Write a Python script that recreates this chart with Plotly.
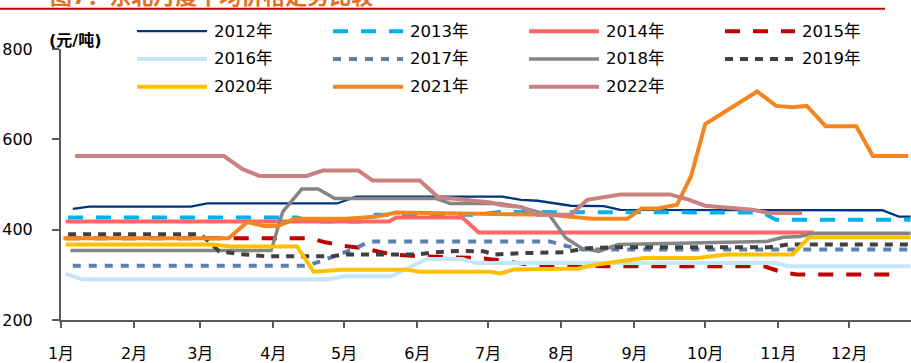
import plotly.graph_objects as go

# ---- x axis: day of year (0 = 1 Jan), ticks at the first day of each month ----
MONTH_START = [0, 31, 59, 90, 120, 151, 181, 212, 243, 273, 304, 334]
MONTH_LABELS = ["1月", "2月", "3月", "4月", "5月", "6月",
                "7月", "8月", "9月", "10月", "11月", "12月"]
Y_TICKS = [200, 400, 600, 800]

# ---- price series (元/吨): day of year and value at each vertex ----
d2012 = [5, 12, 55, 62, 117, 125, 187, 195, 202, 209, 216, 230, 237, 348, 355, 360]
v2012 = [446, 451, 451, 458, 458, 473, 473, 466, 464, 458, 453, 452, 444, 443, 429, 429]

d2013 = [3, 100, 106, 127, 133, 176, 186, 297, 303, 360]
v2013 = [427, 427, 418, 418, 433, 433, 439, 438, 422, 422]

d2014 = [2, 139, 142, 170, 177, 319]
v2014 = [418, 418, 427, 427, 394, 394]

d2015 = [2, 106, 112, 120, 128, 140, 152, 166, 178, 186, 194, 200, 232, 298, 306, 312, 356]
v2015 = [381, 381, 372, 364, 359, 345, 341, 339, 337, 332, 325, 321, 319, 319, 305, 301, 301]

d2016 = [2, 9, 113, 120, 140, 155, 170, 176, 303, 308, 360]
v2016 = [302, 290, 290, 297, 297, 335, 335, 326, 326, 319, 319]

d2017 = [5, 104, 110, 116, 124, 131, 207, 214, 221, 360]
v2017 = [320, 320, 330, 341, 357, 374, 374, 364, 356, 356]

d2018 = [4, 89, 94, 102, 109, 116, 159, 165, 186, 194, 207, 214, 221, 228, 236, 264,
         299, 306, 313, 319, 360]
v2018 = [354, 354, 440, 490, 490, 469, 469, 458, 458, 451, 432, 381, 358, 352, 367, 370,
         374, 383, 385, 392, 392]

d2019 = [3, 59, 63, 67, 76, 87, 115, 120, 151, 158, 169, 179, 184, 195, 213, 223, 236,
         300, 308, 360]
v2019 = [390, 390, 372, 352, 346, 341, 341, 345, 345, 350, 353, 352, 345, 348, 350, 359, 361,
         361, 367, 367]

d2020 = [2, 64, 72, 100, 107, 119, 147, 152, 182, 186, 192, 219, 227, 236, 247, 269, 282,
         310, 317, 360]
v2020 = [367, 367, 363, 363, 307, 311, 311, 307, 307, 303, 312, 314, 323, 330, 337, 337, 345,
         345, 383, 383]

d2021 = [1, 71, 79, 86, 92, 99, 121, 134, 142, 186, 207, 225, 240, 246, 253, 261, 267, 273,
         295, 303, 310, 316, 324, 337, 344, 359]
v2021 = [381, 381, 417, 408, 408, 424, 424, 429, 438, 436, 433, 424, 424, 447, 447, 455, 519, 634,
         706, 674, 671, 674, 629, 629, 563, 563]

d2022 = [6, 69, 77, 84, 104, 111, 126, 132, 152, 160, 168, 175, 182, 187, 195, 202, 216, 223,
         237, 258, 265, 273, 286, 293, 300, 314]
v2022 = [563, 563, 534, 519, 519, 531, 531, 509, 509, 471, 468, 463, 460, 454, 450, 433, 433, 466,
         478, 478, 468, 453, 446, 444, 437, 437]

SERIES = [
    ("2012年", d2012, v2012, dict(color="#00347C", width=2.3)),
    ("2013年", d2013, v2013, dict(color="#00B0F0", width=4, dash="15px,13px")),
    ("2014年", d2014, v2014, dict(color="#FF6666", width=4)),
    ("2015年", d2015, v2015, dict(color="#C00000", width=4, dash="15px,13px")),
    ("2016年", d2016, v2016, dict(color="#C3E7F8", width=4)),
    ("2017年", d2017, v2017, dict(color="#5C80B3", width=4, dash="8px,8px")),
    ("2018年", d2018, v2018, dict(color="#858585", width=3.5)),
    ("2019年", d2019, v2019, dict(color="#404040", width=4, dash="8px,7px")),
    ("2020年", d2020, v2020, dict(color="#FFC000", width=4)),
    ("2021年", d2021, v2021, dict(color="#F5861F", width=4)),
    ("2022年", d2022, v2022, dict(color="#C98280", width=4)),
]

W, H = 911, 363
ML, MR, MT, MB = 61, 0, 49, 41
PW, PH = W - ML - MR, H - MT - MB
FONT = "DejaVu Sans, Noto Sans CJK SC, sans-serif"
AXIS_COLOR = "#595959"


def px_x(px):
    return (px - ML) / PW


def px_y(py):
    return (H - MB - py) / PH


fig = go.Figure()
for name, days, vals, line in SERIES:
    fig.add_trace(go.Scatter(x=days, y=vals, mode="lines", name=name,
                             line=line, showlegend=False, hoverinfo="skip"))

# legend: 4 columns x 3 rows, long line samples
shapes = []
annotations = []
for i, (name, _, _, line) in enumerate(SERIES):
    row, col = divmod(i, 4)
    x0 = 137 + col * 196
    y = 31 + row * 28
    shapes.append(dict(type="line", xref="paper", yref="paper",
                       x0=px_x(x0), x1=px_x(x0 + 70), y0=px_y(y), y1=px_y(y),
                       line=line))
    annotations.append(dict(xref="paper", yref="paper", x=px_x(x0 + 75), y=px_y(y),
                            xanchor="left", yanchor="middle", showarrow=False,
                            text=name, font=dict(family=FONT, size=16.5, color="#000000")))

# unit label
annotations.append(dict(xref="paper", yref="paper", x=px_x(47), y=px_y(40),
                        xanchor="left", yanchor="middle", showarrow=False,
                        text="<b>(元/吨)</b>", font=dict(family=FONT, size=16, color="#000000")))

# figure caption running off the top edge, and the rule beneath it
annotations.append(dict(xref="paper", yref="paper", x=px_x(48), y=px_y(-4),
                        xanchor="left", yanchor="middle", showarrow=False,
                        text="<b>图7：东北月度平均价格走势比较</b>",
                        font=dict(family=FONT, size=22, color="#E2701F")))
shapes.append(dict(type="line", xref="paper", yref="paper",
                   x0=px_x(0), x1=px_x(885), y0=px_y(8.5), y1=px_y(8.5),
                   line=dict(color="#C00000", width=2)))

fig.update_layout(
    width=W, height=H,
    margin=dict(l=ML, r=MR, t=MT, b=MB, pad=0),
    paper_bgcolor="white", plot_bgcolor="white",
    showlegend=False,
    shapes=shapes,
    annotations=annotations,
    xaxis=dict(range=[0, PW / 2.36], tickvals=MONTH_START, ticktext=MONTH_LABELS,
               showgrid=False, zeroline=False, showline=True, linecolor=AXIS_COLOR,
               linewidth=2, ticks="outside", ticklen=6, tickwidth=1.5, tickcolor=AXIS_COLOR,
               tickfont=dict(family=FONT, size=16, color="#000000"), ticklabelstandoff=12),
    yaxis=dict(range=[200, 800], tickvals=Y_TICKS,
               showgrid=False, zeroline=False, showline=True, linecolor=AXIS_COLOR,
               linewidth=2, ticks="outside", ticklen=7, tickwidth=1.5, tickcolor=AXIS_COLOR,
               tickfont=dict(family=FONT, size=16, color="#000000"), ticklabelstandoff=16),
)

fig.write_html("out.html")
